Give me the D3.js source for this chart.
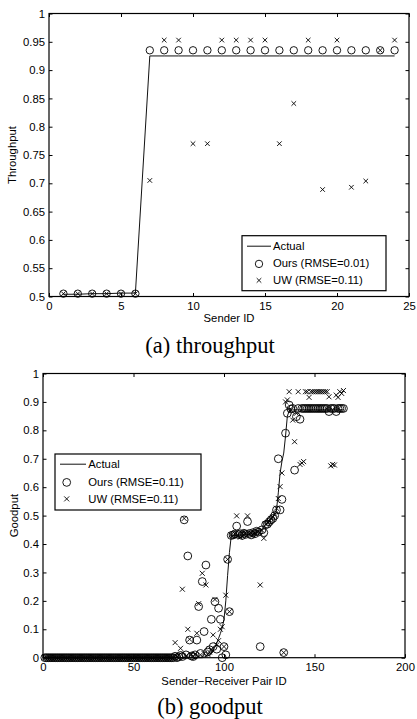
<!DOCTYPE html>
<html>
<head>
<meta charset="utf-8">
<script src="https://cdn.jsdelivr.net/npm/d3@7"></script>
<style>
  html, body { margin: 0; padding: 0; background: #fff; }
  svg { display: block; }
</style>
</head>
<body>
<svg id="fig" width="417" height="719" font-family='"Liberation Sans", Arial, Helvetica, sans-serif'></svg>
<script>
// ---------- (a) throughput per sender ----------
const senderIds = [1,2,3,4,5,6,7,8,9,10,11,12,13,14,15,16,17,18,19,20,21,22,23,24];
const throughputActual = [0.504,0.504,0.505,0.505,0.506,0.506,
  0.925,0.925,0.925,0.925,0.925,0.925,0.925,0.925,0.925,0.925,0.925,0.925,
  0.925,0.925,0.925,0.925,0.925,0.925];
const throughputOurs = [0.505,0.505,0.505,0.505,0.505,0.505,
  0.935,0.935,0.935,0.935,0.935,0.935,0.935,0.935,0.935,0.935,0.935,0.935,
  0.935,0.935,0.935,0.935,0.935,0.935];
const throughputUW = [0.505,0.505,0.505,0.505,0.505,0.505,
  0.705,0.953,0.953,0.77,0.77,0.953,0.953,0.953,0.953,0.77,0.841,0.953,
  0.689,0.953,0.693,0.704,0.935,0.953];
const throughputXTicks = [0, 5, 10, 15, 20, 25];
const throughputYTicks = [0.5, 0.55, 0.6, 0.65, 0.7, 0.75, 0.8, 0.85, 0.9, 0.95, 1];
const throughputLegend = ["Actual", "Ours (RMSE=0.01)", "UW (RMSE=0.11)"];

// ---------- (b) goodput per sender-receiver pair (pair ID = position + 1) ----------
const goodputActual = [
  0,0,0,0,0,0,0,0,0,0,   0,0,0,0,0,0,0,0,0,0,   0,0,0,0,0,0,0,0,0,0,
  0,0,0,0,0,0,0,0,0,0,   0,0,0,0,0,0,0,0,0,0,   0,0,0,0,0,0,0,0,0,0,
  0,0,0,0,0,0,0,0,0,0,   0,0,0,0,0,0,0,0,0,0,
  0,0,0,0,0,0,0,0,0.002,0.004,
  0.007,0.011,0.015,0.025,0.038,0.052,0.068,0.085,0.105,0.135,
  0.2,0.29,0.37,0.428,0.429,0.43,0.43,0.431,0.431,0.432,
  0.432,0.433,0.433,0.434,0.435,0.436,0.438,0.44,0.443,0.447,
  0.452,0.458,0.465,0.472,0.48,0.488,0.496,0.51,0.52,0.58,
  0.65,0.69,0.72,0.78,0.85,0.868,0.872,0.872,0.872,0.872,
  0.872,0.872,0.872,0.872,0.872,0.872,0.872,0.872,0.872,0.872,
  0.872,0.872,0.872,0.872,0.872,0.872,0.872,0.872,0.872,0.872,
  0.872,0.872,0.872,0.872,0.872,0.872
];
const goodputOurs = [
  0,0,0,0,0,0,0,0,0,0,   0,0,0,0,0,0,0,0,0,0,   0,0,0,0,0,0,0,0,0,0,
  0,0,0,0,0,0,0,0,0,0,   0,0,0,0,0,0,0,0,0,0,   0,0,0,0,0,0,0,0,0,0,
  0,0,0,0,0,0,0,0,0,0,
  0,0,0.005,0,0.003,0.008,0.004,0.485,0.01,0.358,
  0.062,0.006,0.004,0.01,0.062,0.18,0.015,0.268,0.092,0.326,
  0.02,0.028,0.135,0.039,0.197,0.03,0.174,0.135,0,0.039,
  0.01,0.346,0.162,0.43,0.432,0.435,0.463,0.433,0.436,0.43,
  0.438,0.434,0.479,0.437,0.432,0.44,0.436,0.445,0.442,0.039,
  0.45,0.44,0.468,0.47,0.478,0.485,0.49,0.5,0.52,0.7,
  0.52,0.557,0.018,0.79,0.86,0.889,0.875,0.877,0.66,0.848,
  0.877,0.839,0.877,0.877,0.877,0.877,0.877,0.877,0.877,0.877,
  0.877,0.877,0.877,0.877,0.877,0.877,0.877,0.866,0.877,0.877,
  0.877,0.866,0.877,0.877,0.877,0.877
];
const goodputUW = [
  0,0,0,0,0,0,0,0,0,0,   0,0,0,0,0,0,0,0,0,0,   0,0,0,0,0,0,0,0,0,0,
  0,0,0,0,0,0,0,0,0,0,   0,0,0,0,0,0,0,0,0,0,   0,0,0,0,0,0,0,0,0,0,
  0,0,0,0,0,0,0,0,0,0,
  0,0,0.053,0.004,0.008,0.033,0.241,0.49,0.006,0.1,
  0.065,0.01,0.005,0.012,0.086,0.19,0.01,0.297,0.015,0.256,
  0.012,0.02,0.03,0.08,0.205,0.045,0.06,0.1,0.109,0.039,
  0.22,0.346,0.162,0.432,0.43,0.436,0.499,0.431,0.424,0.437,
  0.433,0.44,0.499,0.435,0.438,0.433,0.44,0.442,0.445,0.256,
  0.448,0.42,0.47,0.475,0.48,0.49,0.495,0.505,0.526,0.56,
  0.602,0.65,0.018,0.9,0.907,0.936,0.872,0.836,0.76,0.86,
  0.936,0.68,0.685,0.69,0.936,0.936,0.916,0.936,0.936,0.936,
  0.936,0.936,0.936,0.936,0.936,0.936,0.936,0.918,0.675,0.68,
  0.678,0.924,0.916,0.936,0.93,0.94
];
const goodputXTicks = [0, 50, 100, 150, 200];
const goodputYTicks = [0, 0.1, 0.2, 0.3, 0.4, 0.5, 0.6, 0.7, 0.8, 0.9, 1];
const goodputLegend = ["Actual", "Ours (RMSE=0.11)", "UW (RMSE=0.11)"];

const svg = d3.select("#fig");
const fmt = d3.format("~g");
const FONT = 11.3;
const SANS = '"Liberation Sans", Arial, Helvetica, sans-serif';
const SERIF = '"Liberation Serif", "Times New Roman", Times, serif';

function crossPath(h) {
  return `M${-h},${-h}L${h},${h}M${-h},${h}L${h},${-h}`;
}

function drawPanel(cfg) {
  const x = d3.scaleLinear().domain(cfg.xDomain).range([cfg.left, cfg.right]);
  const y = d3.scaleLinear().domain(cfg.yDomain).range([cfg.bottom, cfg.top]);
  const g = svg.append("g");
  const tick = 3.5;

  const styleAxis = sel => {
    sel.select(".domain").remove();
    sel.attr("font-size", FONT).attr("font-family", SANS);
    sel.selectAll(".tick line").attr("stroke", "#000").attr("stroke-width", 1);
    sel.selectAll(".tick text").attr("fill", "#000");
  };

  g.append("g").attr("transform", `translate(0,${cfg.bottom})`)
    .call(d3.axisBottom(x).tickValues(cfg.xTicks).tickFormat(fmt)
      .tickSizeInner(-tick).tickSizeOuter(0).tickPadding(5.5))
    .call(styleAxis);
  g.append("g").attr("transform", `translate(0,${cfg.top})`)
    .call(d3.axisTop(x).tickValues(cfg.xTicks).tickFormat("")
      .tickSizeInner(-tick).tickSizeOuter(0))
    .call(styleAxis);
  g.append("g").attr("transform", `translate(${cfg.left},0)`)
    .call(d3.axisLeft(y).tickValues(cfg.yTicks).tickFormat(fmt)
      .tickSizeInner(-tick).tickSizeOuter(0).tickPadding(4))
    .call(styleAxis);
  g.append("g").attr("transform", `translate(${cfg.right},0)`)
    .call(d3.axisRight(y).tickValues(cfg.yTicks).tickFormat("")
      .tickSizeInner(-tick).tickSizeOuter(0))
    .call(styleAxis);

  g.append("rect")
    .attr("x", cfg.left).attr("y", cfg.top)
    .attr("width", cfg.right - cfg.left).attr("height", cfg.bottom - cfg.top)
    .attr("fill", "none").attr("stroke", "#000").attr("stroke-width", 1.2);

  const idOf = i => cfg.ids ? cfg.ids[i] : i + 1;

  // actual curve
  const line = d3.line().x((d, i) => x(idOf(i))).y(d => y(d));
  g.append("path").datum(cfg.actual).attr("d", line)
    .attr("fill", "none").attr("stroke", "#111").attr("stroke-width", 1);

  // estimates from our method (circles)
  g.append("g").selectAll("circle").data(cfg.ours).join("circle")
    .attr("cx", (d, i) => x(idOf(i))).attr("cy", d => y(d))
    .attr("r", cfg.r).attr("fill", "none").attr("stroke", "#000").attr("stroke-width", 0.9);

  // estimates from UW (crosses)
  g.append("g").selectAll("path").data(cfg.uw).join("path")
    .attr("transform", (d, i) => `translate(${x(idOf(i))},${y(d)})`)
    .attr("d", crossPath(cfg.xh)).attr("fill", "none")
    .attr("stroke", "#000").attr("stroke-width", 0.9);

  // axis titles
  g.append("text").attr("x", (cfg.left + cfg.right) / 2 + cfg.xLabelShift).attr("y", cfg.xLabelY)
    .attr("text-anchor", "middle").attr("font-size", FONT).attr("font-family", SANS)
    .attr("fill", "#000").text(cfg.xLabel);
  g.append("text")
    .attr("transform", `translate(${cfg.yLabelX},${(cfg.top + cfg.bottom) / 2}) rotate(-90)`)
    .attr("text-anchor", "middle").attr("font-size", FONT).attr("font-family", SANS)
    .attr("fill", "#000").text(cfg.yLabel);

  // caption
  g.append("text").attr("x", 210).attr("y", cfg.captionY).attr("text-anchor", "middle")
    .attr("font-family", SERIF)
    .attr("font-size", 22.5).attr("fill", "#000").text(cfg.caption);

  // legend
  const L = cfg.legend;
  const lg = g.append("g").attr("transform", `translate(${L.x},${L.y})`);
  lg.append("rect").attr("width", L.w).attr("height", L.h)
    .attr("fill", "#fff").attr("stroke", "#000").attr("stroke-width", 1.2);
  lg.append("line").attr("x1", L.lineX0).attr("x2", L.lineX1)
    .attr("y1", L.rows[0] - 3.8).attr("y2", L.rows[0] - 3.8)
    .attr("stroke", "#111").attr("stroke-width", 1);
  lg.append("circle").attr("cx", L.markX).attr("cy", L.rows[1] - 3.6).attr("r", cfg.r)
    .attr("fill", "none").attr("stroke", "#000").attr("stroke-width", 0.9);
  lg.append("path").attr("transform", `translate(${L.markX},${L.rows[2] - 3.6})`)
    .attr("d", crossPath(cfg.xh)).attr("fill", "none").attr("stroke", "#000").attr("stroke-width", 0.9);
  cfg.labels.forEach((t, i) => {
    lg.append("text").attr("x", L.textX).attr("y", L.rows[i])
      .attr("font-size", FONT).attr("font-family", SANS).attr("fill", "#000").text(t);
  });
}

drawPanel({
  left: 49, right: 409, top: 13.5, bottom: 296.5,
  xDomain: [0, 25], yDomain: [0.5, 1],
  xTicks: throughputXTicks, yTicks: throughputYTicks,
  ids: senderIds,
  actual: throughputActual, ours: throughputOurs, uw: throughputUW,
  r: 3.7, xh: 2.3,
  xLabel: "Sender ID", xLabelY: 322, xLabelShift: 0,
  yLabel: "Throughput", yLabelX: 16,
  caption: "(a) throughput", captionY: 353,
  labels: throughputLegend,
  legend: { x: 242, y: 235.7, w: 144, h: 55, lineX0: 5, lineX1: 29, markX: 17, textX: 31,
            rows: [14.3, 31.8, 48.3] }
});

drawPanel({
  left: 43, right: 405, top: 373.5, bottom: 657.7,
  xDomain: [0, 200], yDomain: [0, 1],
  xTicks: goodputXTicks, yTicks: goodputYTicks,
  ids: null,
  actual: goodputActual, ours: goodputOurs, uw: goodputUW,
  r: 3.9, xh: 2.5,
  xLabel: "Sender\u2212Receiver Pair ID", xLabelY: 684.5, xLabelShift: 0,
  yLabel: "Goodput", yLabelX: 18,
  caption: "(b) goodput", captionY: 714,
  labels: goodputLegend,
  legend: { x: 55, y: 454, w: 146, h: 56, lineX0: 5, lineX1: 31, markX: 11.7, textX: 33.3,
            rows: [14, 32, 48.5] }
});
</script>
</body>
</html>
